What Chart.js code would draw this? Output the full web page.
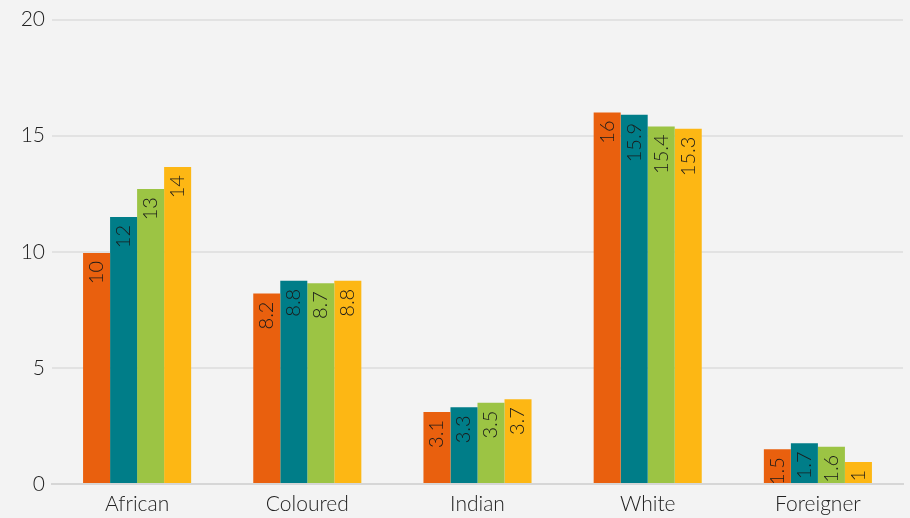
<!DOCTYPE html>
<html>
<head>
<meta charset="utf-8">
<script src="https://cdn.jsdelivr.net/npm/chart.js@4/dist/chart.umd.min.js"></script>
<style>
  body { margin: 0; background: #f3f3f3; }
  #wrap { width: 910px; height: 518px; position: relative; }
</style>
</head>
<body>
<div id="wrap"><canvas id="barchart"></canvas></div>
<script>
// categories and values
let categories = ['African', 'Coloured', 'Indian', 'White', 'Foreigner'];
let yTicks = [0, 5, 10, 15, 20];

let orangeVals = [9.95, 8.2, 3.1, 16.0, 1.5];
let tealVals = [11.5, 8.75, 3.3, 15.9, 1.75];
let greenVals = [12.7, 8.65, 3.5, 15.4, 1.6];
let yellowVals = [13.65, 8.75, 3.65, 15.3, 0.95];

// text printed in the bars
let orangeText = ['10', '8.2', '3.1', '16', '1.5'];
let tealText = ['12', '8.8', '3.3', '15.9', '1.7'];
let greenText = ['13', '8.7', '3.5', '15.4', '1.6'];
let yellowText = ['14', '8.8', '3.7', '15.3', '1'];

let fontFam = 'Lato, "Open Sans", sans-serif';

// rotated value labels at the top of each bar
const barText = {
    id: 'barText',
    afterDatasetsDraw(chart) {
        const ctx = chart.ctx;
        chart.data.datasets.forEach(function (ds, i) {
            let meta = chart.getDatasetMeta(i);
            meta.data.forEach(function (bar, j) {
                ctx.save();
                ctx.translate(bar.x, bar.y + 8);
                ctx.rotate(-Math.PI / 2);
                ctx.font = '300 20px ' + fontFam;
                ctx.fillStyle = '#1a1a1a';
                ctx.textAlign = 'right';
                ctx.textBaseline = 'middle';
                ctx.fillText(ds.texts[j], 0, 0);
                ctx.restore();
            });
        });
    }
};

var barchart = document.getElementById('barchart').getContext('2d');

var chartview = new Chart(barchart, {
    type: 'bar',
    data: {
        labels: categories,
        datasets: [
            { label: 'Series 1', data: orangeVals, texts: orangeText, backgroundColor: '#e9600e' },
            { label: 'Series 2', data: tealVals, texts: tealText, backgroundColor: '#007d88' },
            { label: 'Series 3', data: greenVals, texts: greenText, backgroundColor: '#9cc444' },
            { label: 'Series 4', data: yellowVals, texts: yellowText, backgroundColor: '#fdb714' }
        ]
    },
    options: {
        responsive: true,
        maintainAspectRatio: false,
        animation: false,
        layout: { padding: { top: 14, right: 7, bottom: 0, left: 0 } },
        datasets: { bar: { categoryPercentage: 0.635, barPercentage: 1.0 } },
        plugins: { legend: { display: false }, tooltip: { enabled: false } },
        scales: {
            x: {
                grid: { display: false },
                border: { color: '#d6d6d6', width: 2 },
                ticks: { font: { family: fontFam, size: 21, weight: '300' }, color: '#222', padding: 0 },
                afterFit: function (scale) { scale.height = 34; }
            },
            y: {
                min: 0,
                max: 20,
                afterBuildTicks: function (scale) { scale.ticks = yTicks.map(v => ({ value: v })); },
                grid: { color: '#e2e2e2', lineWidth: 2, drawTicks: false },
                border: { display: false },
                ticks: { font: { family: fontFam, size: 21, weight: '300' }, color: '#222', padding: 7 },
                afterFit: function (scale) { scale.width = 52; }
            }
        }
    },
    plugins: [barText]
});
</script>
</body>
</html>
